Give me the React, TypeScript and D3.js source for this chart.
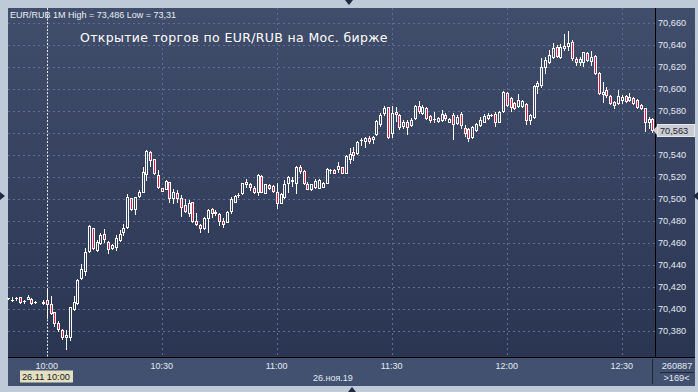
import React from "react";
import * as d3 from "d3";

// 1-minute candles EUR/RUB, 26.11.2019, first candle 9:50 (index 0), last 12:38
const firstMinute = 590; // minutes after midnight (9:50)

const opens: (number | null)[] = [
  70.4097, 70.4082, 70.4097, 70.4106, 70.4076, 70.4094, 70.4094, 70.4067, null, 70.4055,
  70.4082, 70.4045, 70.3970, 70.3872, 70.3806, 70.3763, 70.3748, 70.4000, 70.4051, 70.4278,
  70.4348, 70.4524, 70.4733, 70.4536, 70.4597, 70.4678, 70.4612, 70.4551, 70.4566, 70.4627,
  70.4697, 70.4742, 70.5006, 70.4906, 70.5030, 70.5066, 70.5224, 70.5430, 70.5360, 70.5218,
  70.5097, 70.5094, 70.5152, 70.5006, 70.5052, 70.5006, 70.4946, 70.4876, 70.4970, 70.4800,
  70.4764, 70.4733, 70.4830, 70.4906, 70.4873, 70.4861, 70.4800, 70.4794, 70.4894, 70.4976,
  70.5036, 70.5052, 70.5133, 70.5133, 70.5097, 70.5061, 70.5209, 70.5058, 70.5127, 70.5118,
  70.5067, 70.4967, 70.5021, 70.5143, 70.5167, 70.5149, 70.5288, 70.5255, 70.5133, 70.5088,
  70.5106, 70.5103, 70.5112, 70.5149, 70.5264, 70.5264, 70.5270, 70.5288, 70.5240, 70.5364,
  70.5430, 70.5415, 70.5536, 70.5530, 70.5557, 70.5549, 70.5588, 70.5679, 70.5779, 70.5833,
  70.5597, 70.5788, 70.5764, 70.5664, 70.5700, 70.5673, 70.5733, 70.5849, 70.5779, 70.5824,
  70.5755, 70.5724, 70.5733, 70.5718, 70.5764, 70.5703, 70.5764, 70.5688, 70.5770, 70.5643,
  70.5634, 70.5561, 70.5627, 70.5673, 70.5703, 70.5733, 70.5764, 70.5770, 70.5703, 70.5800,
  70.5967, 70.5915, 70.5870, 70.5846, 70.5846, 70.5861, 70.5718, 70.5749, 70.6030, 70.6037,
  70.6203, 70.6243, 70.6294, 70.6385, 70.6294, 70.6370, 70.6394, 70.6430, 70.6270, 70.6243,
  70.6243, 70.6324, 70.6255, 70.6300, 70.6149, 70.5952, 70.5991, 70.5939, 70.5885, 70.5870,
  70.5900, 70.5937, 70.5900, 70.5915, 70.5900, 70.5855, 70.5824, 70.5697, 70.5727,
];
const highs: (number | null)[] = [
  70.4100, 70.4112, 70.4112, 70.4110, 70.4079, 70.4124, 70.4100, 70.4070, null, 70.4082,
  70.4182, 70.4121, 70.3975, 70.3888, 70.3821, 70.3809, 70.4018, 70.4121, 70.4270, 70.4409,
  70.4551, 70.4763, 70.4740, 70.4627, 70.4687, 70.4724, 70.4618, 70.4590, 70.4672, 70.4718,
  70.4769, 70.5042, 70.5012, 70.5020, 70.5081, 70.5294, 70.5445, 70.5436, 70.5366, 70.5263,
  70.5100, 70.5170, 70.5158, 70.5088, 70.5082, 70.5036, 70.5000, 70.4991, 70.4976, 70.4870,
  70.4770, 70.4836, 70.4906, 70.4915, 70.4900, 70.4870, 70.4824, 70.4891, 70.5021, 70.5033,
  70.5058, 70.5149, 70.5179, 70.5149, 70.5118, 70.5227, 70.5215, 70.5140, 70.5133, 70.5124,
  70.5148, 70.5052, 70.5173, 70.5209, 70.5203, 70.5297, 70.5309, 70.5261, 70.5158, 70.5140,
  70.5180, 70.5180, 70.5150, 70.5282, 70.5270, 70.5270, 70.5340, 70.5294, 70.5397, 70.5461,
  70.5476, 70.5530, 70.5558, 70.5567, 70.5576, 70.5570, 70.5715, 70.5779, 70.5845, 70.5840,
  70.5845, 70.5840, 70.5770, 70.5718, 70.5720, 70.5733, 70.5855, 70.5891, 70.5855, 70.5840,
  70.5764, 70.5794, 70.5749, 70.5809, 70.5779, 70.5740, 70.5779, 70.5760, 70.5794, 70.5673,
  70.5643, 70.5660, 70.5690, 70.5749, 70.5770, 70.5779, 70.5770, 70.5794, 70.5800, 70.5985,
  70.5976, 70.5930, 70.5880, 70.5952, 70.5900, 70.5870, 70.5770, 70.6037, 70.6073, 70.6279,
  70.6288, 70.6355, 70.6415, 70.6400, 70.6406, 70.6500, 70.6527, 70.6446, 70.6294, 70.6294,
  70.6340, 70.6334, 70.6346, 70.6309, 70.6158, 70.6061, 70.6021, 70.5946, 70.5891, 70.5991,
  70.5946, 70.5946, 70.5961, 70.5925, 70.5910, 70.5860, 70.5830, 70.5749, 70.5740,
];
const lows: (number | null)[] = [
  70.4094, 70.4076, 70.4082, 70.4058, 70.4051, 70.4091, 70.4048, 70.4052, null, 70.4048,
  70.3918, 70.3958, 70.3845, 70.3800, 70.3727, 70.3636, 70.3718, 70.3991, 70.4045, 70.4270,
  70.4312, 70.4515, 70.4545, 70.4527, 70.4590, 70.4612, 70.4512, 70.4545, 70.4536, 70.4620,
  70.4672, 70.4736, 70.4900, 70.4860, 70.5015, 70.5060, 70.5172, 70.5300, 70.5227, 70.5097,
  70.5070, 70.5088, 70.4976, 70.4967, 70.4976, 70.4846, 70.4885, 70.4846, 70.4795, 70.4764,
  70.4703, 70.4724, 70.4703, 70.4840, 70.4855, 70.4764, 70.4749, 70.4788, 70.4870, 70.4970,
  70.5021, 70.5046, 70.5112, 70.5082, 70.5052, 70.5036, 70.5060, 70.5052, 70.5088, 70.5067,
  70.4921, 70.4960, 70.5006, 70.5067, 70.5118, 70.5058, 70.5233, 70.5136, 70.5088, 70.5082,
  70.5100, 70.5097, 70.5106, 70.5143, 70.5233, 70.5233, 70.5249, 70.5233, 70.5233, 70.5324,
  70.5355, 70.5409, 70.5491, 70.5470, 70.5506, 70.5512, 70.5582, 70.5664, 70.5764, 70.5555,
  70.5561, 70.5712, 70.5640, 70.5643, 70.5588, 70.5664, 70.5727, 70.5779, 70.5770, 70.5727,
  70.5703, 70.5703, 70.5703, 70.5709, 70.5718, 70.5697, 70.5546, 70.5680, 70.5643, 70.5576,
  70.5527, 70.5550, 70.5615, 70.5660, 70.5697, 70.5727, 70.5755, 70.5667, 70.5697, 70.5794,
  70.5845, 70.5800, 70.5820, 70.5837, 70.5840, 70.5679, 70.5679, 70.5740, 70.5961, 70.6021,
  70.6143, 70.6234, 70.6279, 70.6294, 70.6285, 70.6355, 70.6355, 70.6264, 70.6218, 70.6218,
  70.6212, 70.6255, 70.6218, 70.6140, 70.5950, 70.5885, 70.5930, 70.5860, 70.5830, 70.5861,
  70.5870, 70.5885, 70.5891, 70.5861, 70.5830, 70.5820, 70.5618, 70.5643, 70.5610,
];
const closes: (number | null)[] = [
  70.4097, 70.4079, 70.4097, 70.4061, 70.4073, 70.4106, 70.4058, 70.4064, null, 70.4061,
  70.4045, 70.3960, 70.3873, 70.3821, 70.3742, 70.3748, 70.4015, 70.4060, 70.4263, 70.4360,
  70.4515, 70.4754, 70.4557, 70.4606, 70.4672, 70.4633, 70.4542, 70.4582, 70.4648, 70.4678,
  70.4733, 70.5021, 70.4912, 70.5015, 70.5060, 70.5242, 70.5439, 70.5354, 70.5233, 70.5106,
  70.5076, 70.5164, 70.5012, 70.5061, 70.5006, 70.4924, 70.4894, 70.4967, 70.4800, 70.4770,
  70.4740, 70.4830, 70.4900, 70.4870, 70.4879, 70.4803, 70.4773, 70.4885, 70.5000, 70.5027,
  70.5039, 70.5143, 70.5158, 70.5112, 70.5067, 70.5218, 70.5067, 70.5133, 70.5097, 70.5076,
  70.4961, 70.5046, 70.5133, 70.5197, 70.5170, 70.5294, 70.5258, 70.5143, 70.5094, 70.5133,
  70.5167, 70.5173, 70.5142, 70.5273, 70.5267, 70.5240, 70.5300, 70.5240, 70.5391, 70.5409,
  70.5400, 70.5521, 70.5539, 70.5551, 70.5530, 70.5567, 70.5709, 70.5764, 70.5824, 70.5561,
  70.5779, 70.5770, 70.5652, 70.5703, 70.5652, 70.5718, 70.5846, 70.5800, 70.5840, 70.5733,
  70.5718, 70.5727, 70.5712, 70.5770, 70.5733, 70.5724, 70.5679, 70.5749, 70.5673, 70.5597,
  70.5552, 70.5652, 70.5682, 70.5718, 70.5758, 70.5764, 70.5761, 70.5703, 70.5794, 70.5976,
  70.5855, 70.5840, 70.5830, 70.5900, 70.5891, 70.5718, 70.5764, 70.6027, 70.6052, 70.6203,
  70.6264, 70.6309, 70.6370, 70.6303, 70.6385, 70.6394, 70.6421, 70.6279, 70.6249, 70.6273,
  70.6334, 70.6264, 70.6294, 70.6149, 70.5961, 70.5976, 70.5946, 70.5870, 70.5855, 70.5939,
  70.5930, 70.5894, 70.5930, 70.5870, 70.5840, 70.5830, 70.5703, 70.5724, 70.5627,
];

const priceTicks = [70.38, 70.4, 70.42, 70.44, 70.46, 70.48, 70.5, 70.52, 70.54, 70.56, 70.58, 70.6, 70.62, 70.64, 70.66];
const priceLabels = ["70,380", "70,400", "70,420", "70,440", "70,460", "70,480", "70,500", "70,520", "70,540", "70,560", "70,580", "70,600", "70,620", "70,640", "70,660"];
const timeTicks = [600, 630, 660, 690, 720, 750];
const timeLabels = ["10:00", "10:30", "11:00", "11:30", "12:00", "12:30"];
const headerText = "EUR/RUB 1M High = 73,486 Low = 73,31";
const titleText = "Открытие торгов по EUR/RUB на Мос. бирже";
const lastPrice = 70.563;
const lastPriceLabel = "70,563";
const dateLabel = "26.ноя.19";
const cursorLabel = "26.11 10:00";
const volumeLabel = "260887";
const countLabel = ">169<";

const FONT = "'Liberation Sans', Arial, sans-serif";

export default function App() {
  const x = d3.scaleLinear().domain([600, 750]).range([46.7, 621.7]);
  const y = d3.scaleLinear().domain([70.38, 70.66]).range([331, 23]);

  const plotL = 8, plotT = 8, plotR = 655, plotB = 357, frameR = 695, panelB = 386;

  const candles = opens.map((o, i) => {
    const h = highs[i], l = lows[i], c = closes[i];
    if (o == null || h == null || l == null || c == null) return null;
    const cx = Math.round(x(firstMinute + i));
    const top = Math.round(y(Math.max(o, c)));
    const bot = Math.round(y(Math.min(o, c)));
    const hy = Math.round(y(h));
    const ly = Math.round(y(l));
    const bear = c < o;
    const flat = bot - top < 2;
    return (
      <g key={i}>
        <rect x={cx} y={hy} width={1} height={ly - hy + 1} fill="#ffffff" />
        <rect x={cx - 1} y={top} width={3} height={bot - top + 1} fill="#ffffff" />
        {!flat && (
          <rect x={cx} y={top + 1} width={1} height={bot - top - 1} fill={bear ? "#e8143c" : "url(#bgGrad)"} />
        )}
      </g>
    );
  });

  const tagY = Math.round(y(lastPrice));
  const visibleTicks = priceTicks
    .map((p, i) => ({ p, label: priceLabels[i] }))
    .filter((t) => Math.abs(y(t.p) - tagY) > 9);

  return (
    <svg
      width={698}
      height={392}
      style={{ position: "fixed", left: 0, top: 0, display: "block" }}
      fontFamily={FONT}
    >
      <defs>
        <linearGradient id="bgGrad" gradientUnits="userSpaceOnUse" x1={0} y1={plotT} x2={0} y2={plotB}>
          <stop offset="0%" stopColor="#414e6b" />
          <stop offset="100%" stopColor="#2a3552" />
        </linearGradient>
      </defs>
      {/* outer frame */}
      <rect x={0} y={0} width={698} height={392} fill="#bfcad9" />
      <rect x={plotL} y={plotT} width={frameR - plotL} height={plotB - plotT} fill="url(#bgGrad)" />
      {/* bottom time panel */}
      <rect x={plotL} y={plotB} width={frameR - plotL} height={panelB - plotB} fill="#425170" />

      {/* horizontal grid */}
      {priceTicks.map((p, i) => (
        <line key={"hg" + i} x1={plotL} x2={plotR} y1={Math.round(y(p)) + 0.5} y2={Math.round(y(p)) + 0.5}
          stroke="#5f6e8f" strokeDasharray="2,3" />
      ))}
      {/* vertical grid */}
      {timeTicks.slice(1).map((t, i) => (
        <line key={"vg" + i} x1={Math.round(x(t)) + 0.5} x2={Math.round(x(t)) + 0.5} y1={plotT} y2={plotB}
          stroke="#5f6e8f" strokeDasharray="2,3" />
      ))}
      {/* 10:00 session cursor */}
      <line x1={Math.round(x(600)) + 0.5} x2={Math.round(x(600)) + 0.5} y1={plotT} y2={plotB}
        stroke="#e6e9f0" strokeDasharray="2,1.5" />

      {/* candles */}
      {candles}

      {/* axis lines */}
      <line x1={plotR + 0.5} x2={plotR + 0.5} y1={plotT} y2={plotB} stroke="#000" />
      <line x1={plotL} x2={frameR} y1={plotB + 0.5} y2={plotB + 0.5} stroke="#000" />

      {/* y labels */}
      {visibleTicks.map((t, i) => (
        <text key={"yl" + i} x={658} y={y(t.p) + 3.4} fontSize={9.2} fill="#e2e9f4">{t.label}</text>
      ))}

      {/* last price tag */}
      <polygon points={`653,${tagY + 0.5} 658,${tagY - 5} 658,${tagY + 6}`} fill="#c9ccd2" />
      <rect x={657.5} y={tagY - 5.5} width={37} height={12} fill="#c9ccd2" stroke="#e4e6ea" />
      <text x={660} y={tagY + 4} fontSize={9.2} fill="#1c2230">{lastPriceLabel}</text>

      {/* time labels */}
      {timeTicks.map((t, i) => (
        <text key={"tl" + i} x={x(t)} y={368.5} fontSize={9} fill="#e2e9f4" textAnchor="middle">{timeLabels[i]}</text>
      ))}
      <text x={313} y={380.5} fontSize={9} fill="#e2e9f4">{dateLabel}</text>

      {/* cursor date box */}
      <rect x={20} y={370.5} width={53} height={12} fill="#e3dfc1" />
      <text x={22} y={380.2} fontSize={9.2} fill="#1a1a1a">{cursorLabel}</text>

      {/* bottom right counters */}
      <line x1={652.5} x2={652.5} y1={359} y2={384} stroke="#1e2638" />
      <line x1={660} x2={694} y1={372.5} y2={372.5} stroke="#1e2638" />
      <text x={677} y={368.5} fontSize={9.2} fill="#e2e9f4" textAnchor="middle">{volumeLabel}</text>
      <text x={676.5} y={381} fontSize={9.2} fill="#e2e9f4" textAnchor="middle">{countLabel}</text>

      {/* header + title */}
      <text x={10} y={18} fontSize={9} fill="#e8edf6">{headerText}</text>
      <text x={80} y={41.5} fontSize={12.5} letterSpacing={0.35} fill="#ffffff"
        fontFamily="'DejaVu Sans', Verdana, sans-serif">{titleText}</text>

      {/* frame arrows */}
      <polygon points="345,0 353,0 349,5" fill="#1f2a40" />
      <polygon points="348,392 356,392 352,387" fill="#1f2a40" />
      <polygon points="0,192 0,200 5,196" fill="#1f2a40" />
      <polygon points="698,192 698,200 693,196" fill="#1f2a40" />
    </svg>
  );
}
